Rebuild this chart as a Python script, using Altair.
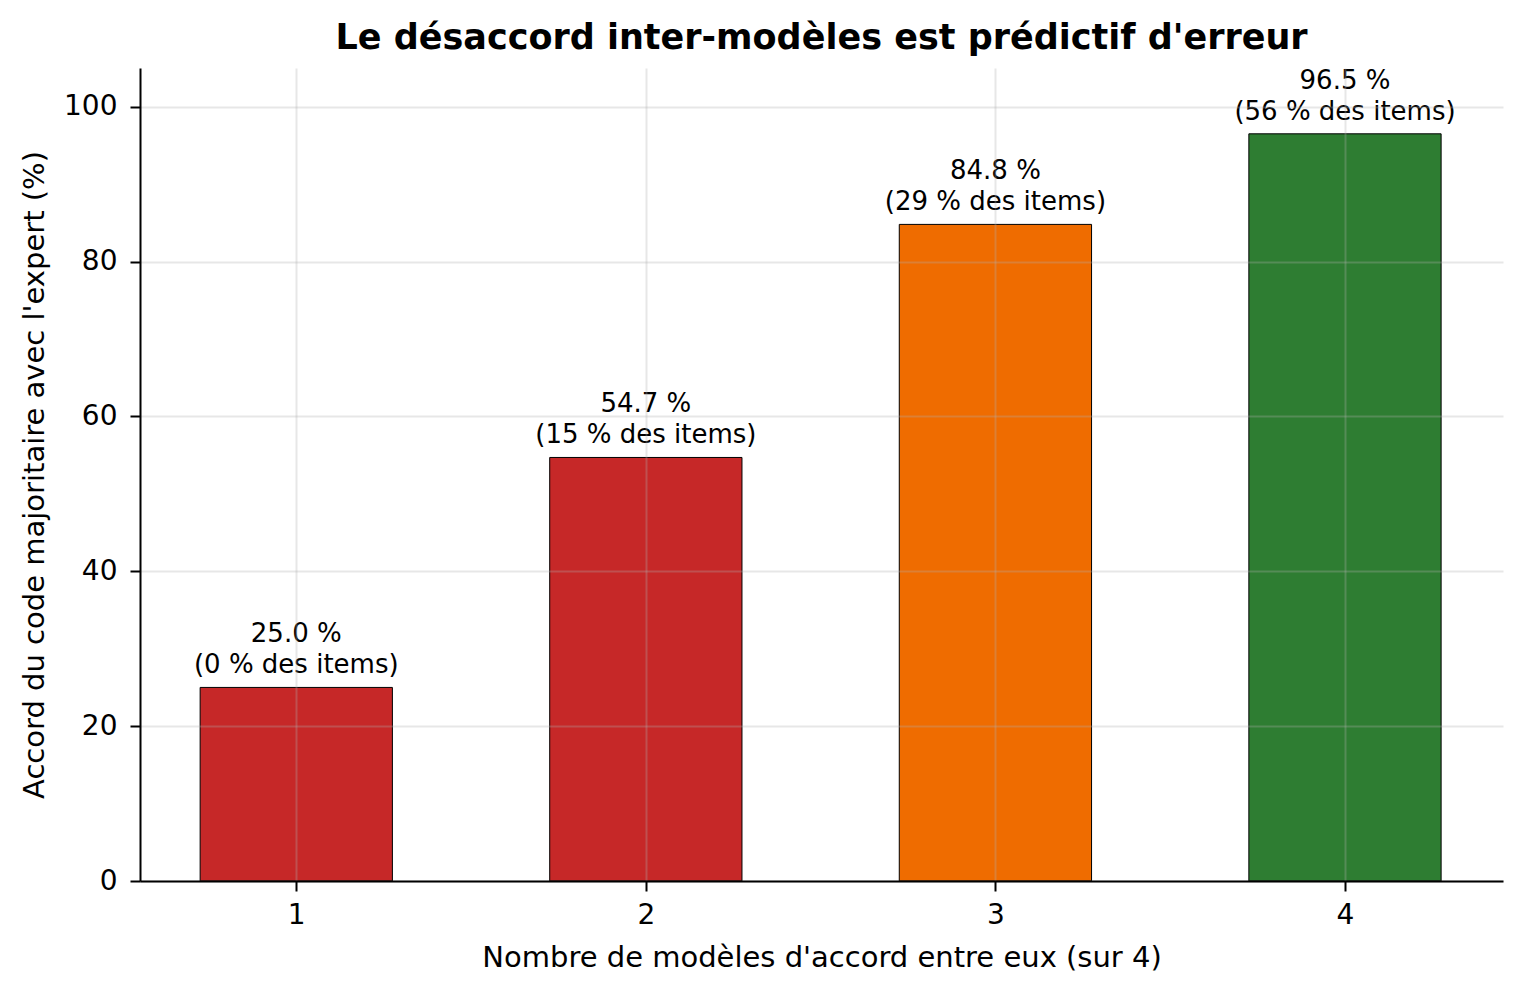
import altair as alt
import pandas as pd

n_models = [1, 2, 3, 4]
accord = [25.0, 54.7, 84.8, 96.5]
share_items = [0, 15, 29, 56]
bar_colors = ["#c62828", "#c62828", "#ef6c00", "#2e7d32"]

df = pd.DataFrame({
    "n": n_models,
    "accord": accord,
    "share": share_items,
    "color": bar_colors,
})
df["label"] = [f"{a:.1f} %\n({s} % des items)" for a, s in zip(accord, share_items)]

FONT = "DejaVu Sans"
half = 0.275

xscale = alt.Scale(domain=[0.553, 4.452], nice=False, zero=False)
yscale = alt.Scale(domain=[0, 105], nice=False)

base = alt.Chart(df).transform_calculate(
    x0=f"datum.n - {half}", x1=f"datum.n + {half}"
)

bars = base.mark_rect(stroke="black", strokeWidth=1).encode(
    x=alt.X("x0:Q", scale=xscale,
            axis=alt.Axis(values=n_models, format="d",
                          title="Nombre de modèles d'accord entre eux (sur 4)",
                          grid=True, zindex=1)),
    x2="x1:Q",
    y=alt.Y("accord:Q", scale=yscale,
            axis=alt.Axis(values=[0, 20, 40, 60, 80, 100],
                          title="Accord du code majoritaire avec l'expert (%)",
                          grid=True, zindex=1)),
    y2=alt.datum(0),
    color=alt.Color("color:N", scale=None),
)

labels = alt.Chart(df).mark_text(
    lineBreak="\n", baseline="bottom", align="center", dy=-40,
    font=FONT, fontSize=26, color="black", lineHeight=31,
).encode(
    x=alt.X("n:Q", scale=xscale),
    y=alt.Y("accord:Q", scale=yscale),
    text="label:N",
)

chart = (bars + labels).properties(
    width=1363,
    height=813,
    title=alt.TitleParams(
        "Le désaccord inter-modèles est prédictif d'erreur",
        font=FONT, fontSize=35, fontWeight="bold", anchor="middle",
        color="black", offset=12,
    ),
    autosize=alt.AutoSizeParams(type="none"),
    padding={"left": 132, "top": 60, "right": 13, "bottom": 107},
    background="white",
).configure_view(stroke=None).configure_axis(
    labelFont=FONT, titleFont=FONT,
    labelFontSize=28, titleFontSize=29,
    labelColor="black", titleColor="black",
    titleFontWeight="normal",
    domainColor="black", domainWidth=2,
    tickColor="black", tickWidth=2, tickSize=10,
    labelPadding=10,
    gridColor="#b0b0b0", gridOpacity=0.3, gridWidth=2,
).configure_axisX(titlePadding=14, labelAngle=0).configure_axisY(
    titlePadding=14, labelPadding=13,
)

chart.save("out.html", embed_options={"renderer": "svg", "actions": False})
